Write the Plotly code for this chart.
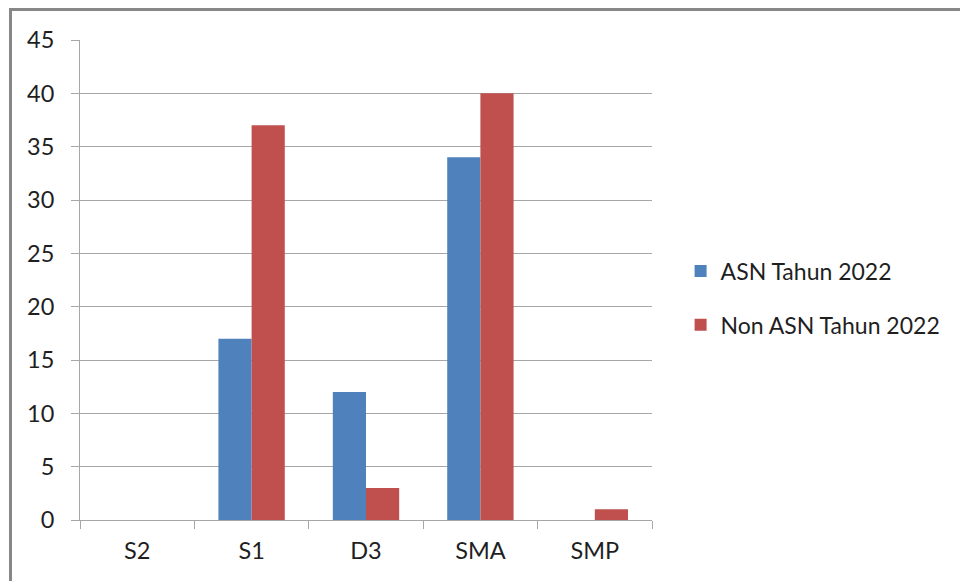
import plotly.graph_objects as go

categories = ["S2", "S1", "D3", "SMA", "SMP"]
asn_2022 = [0, 17, 12, 34, 0]
non_asn_2022 = [0, 37, 3, 40, 1]
y_ticks = [0, 5, 10, 15, 20, 25, 30, 35, 40, 45]

FONT = "Lato, Calibri, 'Open Sans', sans-serif"
GRID = "#a6a6a6"
TEXT = "#1f1f1f"

fig = go.Figure()
fig.add_trace(go.Bar(name="ASN Tahun 2022", x=categories, y=asn_2022,
                     marker=dict(color="#4f81bd", line=dict(width=0)),
                     legendgroup="a"))
fig.add_trace(go.Bar(name="Non ASN Tahun 2022", x=categories, y=non_asn_2022,
                     marker=dict(color="#c0504d", line=dict(width=0)),
                     legendgroup="b"))

fig.update_layout(
    width=960, height=581,
    margin=dict(l=80, r=308, t=40, b=61),
    paper_bgcolor="white", plot_bgcolor="white",
    font=dict(family=FONT, size=23.5, color=TEXT),
    barmode="group", bargap=0.42, bargroupgap=0,
    legend=dict(x=1.05, xanchor="left", y=0.4625, yanchor="middle",
                traceorder="grouped", tracegroupgap=21,
                font=dict(size=23, family=FONT, color=TEXT),
                bgcolor="rgba(0,0,0,0)"),
    showlegend=True,
)
fig.update_xaxes(
    showline=True, linecolor=GRID, linewidth=1,
    ticks="outside", tickson="boundaries", ticklen=8, tickcolor=GRID,
    ticklabelstandoff=10, showgrid=False,
)
fig.update_yaxes(
    range=[0, 45], tickvals=y_ticks, showgrid=True, gridcolor=GRID, gridwidth=1,
    showline=True, linecolor=GRID, linewidth=1,
    ticks="outside", ticklen=8, tickcolor=GRID, ticklabelstandoff=12,
    zeroline=False,
)
# outer chart frame
fig.add_shape(type="rect", xref="paper", yref="paper",
              x0=-0.1215, y0=-0.3, x1=1.7, y1=1.0635,
              line=dict(color="#878787", width=3), fillcolor="rgba(0,0,0,0)")

fig.write_html("out.html")
